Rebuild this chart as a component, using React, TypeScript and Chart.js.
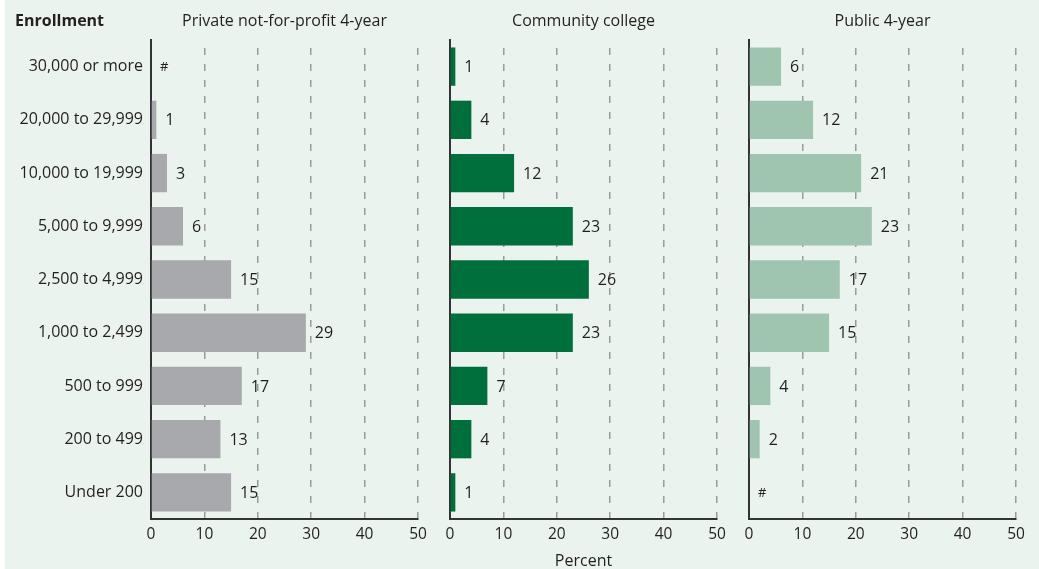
import React, { useEffect, useRef } from 'react';
import { Chart, registerables } from 'chart.js';

Chart.register(...registerables);

const categories = [
  '30,000 or more',
  '20,000 to 29,999',
  '10,000 to 19,999',
  '5,000 to 9,999',
  '2,500 to 4,999',
  '1,000 to 2,499',
  '500 to 999',
  '200 to 499',
  'Under 200',
];
// null = "#" (rounds to zero)
const privateValues: (number | null)[] = [null, 1, 3, 6, 15, 29, 17, 13, 15];
const communityValues: (number | null)[] = [1, 4, 12, 23, 26, 23, 7, 4, 1];
const publicValues: (number | null)[] = [6, 12, 21, 23, 17, 15, 4, 2, null];
const xTicks = [0, 10, 20, 30, 40, 50];
const panelTitles = ['Private not-for-profit 4-year', 'Community college', 'Public 4-year'];
const barColors = ['#a7a9ac', '#006f3c', '#9fc5b1'];
const rowHeader = 'Enrollment';
const xAxisTitle = 'Percent';

const FONT = "'Open Sans', sans-serif";
const TEXT = '#231f20';

type PanelProps = {
  left: number;
  width: number;
  values: (number | null)[];
  color: string;
  title: string;
  showY: boolean;
  pad: { left: number; right: number };
  yWidth: number;
  header?: string;
  footer?: string;
};

function Panel(p: PanelProps) {
  const ref = useRef<HTMLCanvasElement | null>(null);
  useEffect(() => {
    if (!ref.current) return;
    const labelPlugin = {
      id: 'valueLabels',
      afterDatasetsDraw(chart: any) {
        const ctx = chart.ctx;
        const meta = chart.getDatasetMeta(0);
        const data = chart.data.datasets[0].data;
        const xs = chart.scales.x;
        const ys = chart.scales.y;
        ctx.save();
        ctx.fillStyle = TEXT;
        ctx.textAlign = 'left';
        ctx.textBaseline = 'middle';
        meta.data.forEach((bar: any, i: number) => {
          const v = data[i];
          const y = ys.getPixelForValue(i);
          if (v == null) {
            ctx.font = `13px ${FONT}`;
            ctx.fillText('#', xs.getPixelForValue(0) + 9, y + 1);
          } else {
            ctx.font = `16px ${FONT}`;
            ctx.fillText(String(v), bar.x + 9, y + 1);
          }
        });
        ctx.restore();
      },
      afterDraw(chart: any) {
        const ctx = chart.ctx;
        const a = chart.chartArea;
        ctx.save();
        ctx.fillStyle = TEXT;
        ctx.textBaseline = 'middle';
        ctx.textAlign = 'center';
        ctx.font = `16px ${FONT}`;
        ctx.fillText(p.title, (a.left + a.right) / 2, 21);
        if (p.footer) {
          ctx.fillText(p.footer, (a.left + a.right) / 2, 561);
        }
        if (p.header) {
          ctx.textAlign = 'left';
          ctx.font = `bold 16px ${FONT}`;
          ctx.fillText(p.header, 10, 21);
        }
        ctx.restore();
      },
    };
    const chart = new Chart(ref.current, {
      type: 'bar',
      data: {
        labels: categories,
        datasets: [
          {
            data: p.values as any,
            backgroundColor: p.color,
            borderWidth: 0,
            barPercentage: 0.9,
            categoryPercentage: 0.8,
          },
        ],
      },
      options: {
        indexAxis: 'y',
        responsive: false,
        animation: false,
        layout: { padding: { left: p.pad.left, right: p.pad.right, top: 40, bottom: 20 } },
        plugins: { legend: { display: false }, tooltip: { enabled: false }, title: { display: false } },
        scales: {
          x: {
            type: 'linear',
            min: 0,
            max: 50,
            afterBuildTicks: (s: any) => {
              s.ticks = xTicks.map((v) => ({ value: v }));
            },
            afterFit: (s: any) => {
              s.height = 30;
            },
            ticks: { font: { family: FONT, size: 15.5 }, color: TEXT, padding: 6, maxRotation: 0 },
            grid: {
              drawTicks: false,
              lineWidth: 1.5,
              color: (c: any) => (c.tick && c.tick.value === 0 ? 'rgba(0,0,0,0)' : '#9a9a9a'),
            },
            border: { display: true, color: '#333333', width: 2, dash: [7, 9], dashOffset: 8 },
          },
          y: {
            type: 'category',
            afterFit: (s: any) => {
              s.width = p.yWidth;
            },
            ticks: { display: p.showY, font: { family: FONT, size: 16 }, color: TEXT, padding: 8 },
            grid: { display: false, drawTicks: false },
            border: { display: true, color: '#333333', width: 2 },
          },
        },
      },
      plugins: [labelPlugin],
    });
    return () => chart.destroy();
  }, []);
  return (
    <canvas
      ref={ref}
      width={p.width}
      height={569}
      style={{ position: 'absolute', left: p.left, top: 0, width: p.width, height: 569 }}
    />
  );
}

export default function App() {
  return (
    <div style={{ position: 'absolute', left: 0, top: 0, width: 1039, height: 569, background: '#ffffff', overflow: 'hidden' }}>
      <div style={{ position: 'absolute', left: 5, top: 0, width: 1034, height: 569, background: '#eaf3ee' }} />
      <Panel
        left={5}
        width={430}
        values={privateValues}
        color={barColors[0]}
        title={panelTitles[0]}
        showY={true}
        yWidth={146}
        pad={{ left: 0, right: 17 }}
        header={rowHeader}
      />
      <Panel
        left={435}
        width={300}
        values={communityValues}
        color={barColors[1]}
        title={panelTitles[1]}
        showY={false}
        yWidth={0}
        pad={{ left: 15, right: 18 }}
        footer={xAxisTitle}
      />
      <Panel
        left={735}
        width={304}
        values={publicValues}
        color={barColors[2]}
        title={panelTitles[2]}
        showY={false}
        yWidth={0}
        pad={{ left: 14, right: 23 }}
      />
    </div>
  );
}
